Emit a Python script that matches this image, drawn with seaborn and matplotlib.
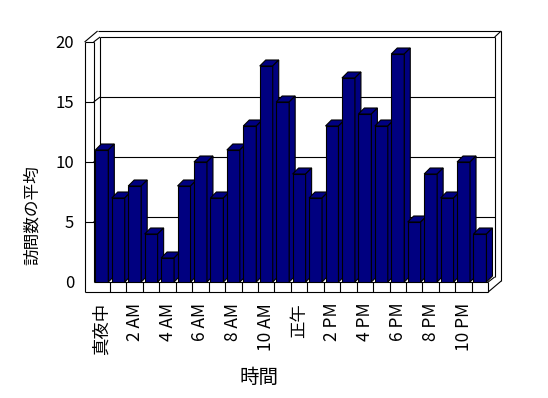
import matplotlib
matplotlib.use("Agg")
import matplotlib.pyplot as plt
from matplotlib.patches import Polygon
import seaborn as sns
import pandas as pd

# ---- data ----
hours = ["真夜中", "1 AM", "2 AM", "3 AM", "4 AM", "5 AM", "6 AM", "7 AM",
         "8 AM", "9 AM", "10 AM", "11 AM", "正午", "1 PM", "2 PM", "3 PM",
         "4 PM", "5 PM", "6 PM", "7 PM", "8 PM", "9 PM", "10 PM", "11 PM"]
visits = [11, 7, 8, 4, 2, 8, 10, 7, 11, 13, 18, 15,
          9, 7, 13, 17, 14, 13, 19, 5, 9, 7, 10, 4]
y_ticks = [0, 5, 10, 15, 20]
x_label = "時間"
y_label = "訪問数の平均"

df = pd.DataFrame({"hour": hours, "visits": visits})

sns.set_theme(style="white")
plt.rcParams["font.family"] = ["Noto Sans CJK JP", "DejaVu Sans"]
plt.rcParams["text.color"] = "black"
plt.rcParams["xtick.color"] = "black"
plt.rcParams["ytick.color"] = "black"

W, H = 548, 398
fig = plt.figure(figsize=(W / 100, H / 100), dpi=100)
fig.patch.set_facecolor("white")

# front plane of the 3-D box (pixels)
L, R, B, T = 93.6, 488.2, 282.0, 42.0
ax = fig.add_axes([L / W, (H - B) / H, (R - L) / W, (B - T) / H])

NAVY = "#000080"
LW = 0.8
sns.barplot(data=df, x="hour", y="visits", order=hours, color=NAVY,
            saturation=1, width=0.79, edgecolor="black", linewidth=LW, ax=ax)

n = len(hours)
ax.set_xlim(-0.5, n - 0.5)
ax.set_ylim(0, 20)
ax.set_facecolor("none")
for s in ax.spines.values():
    s.set_visible(False)

pxx = (R - L) / n      # pixels per x unit
pxy = (B - T) / 20.0   # pixels per y unit


def P(x, y, ox=0.0, oy=0.0):
    return (x + ox / pxx, y + oy / pxy)


BD = (6.0, 6.0)     # bar depth
BW = (6.5, 5.0)     # back wall inner face
BO = (13.0, 11.0)   # back wall outer face
LWT = 9.0           # left wall thickness (px)
FT = 10.0           # floor thickness (px)
x0, x1 = -0.5, n - 0.5


def line(a, b, z=1):
    ax.plot([a[0], b[0]], [a[1], b[1]], color="black", lw=LW, zorder=z,
            clip_on=False, solid_capstyle="butt")


# back wall inner face
line(P(x0, 20, *BW), P(x1, 20, *BW))
line(P(x0, 20, *BW), P(x0, 0, *BW))
line(P(x1, 20, *BW), P(x1, 0, *BW))
# gridlines + ticks on left wall
for yv in y_ticks[1:-1]:
    line(P(x0, yv, *BW), P(x1, yv, *BW))
    line(P(x0, yv), P(x0, yv, *BW))
    line(P(x0, yv, -LWT, 0), P(x0, yv))
# back wall outer edges
line(P(x0, 20, BO[0] - LWT, BO[1]), P(x1, 20, *BO))
line(P(x1, 20, *BW), P(x1, 20, *BO))
line(P(x1, 20, *BO), P(x1, 0, BO[0], BO[1] - FT))
# left wall
line(P(x0, 20, -LWT, 0), P(x0, 0, -LWT, -FT))
line(P(x0, 20), P(x0, 0))
line(P(x0, 20, -LWT, 0), P(x0, 20))
line(P(x0, 20, -LWT, 0), P(x0, 20, BO[0] - LWT, BO[1]))
line(P(x0, 20), P(x0, 20, *BW))
# floor
line(P(x0, 0, -LWT, -FT), P(x1, 0, 0, -FT))
line(P(x0, 0), P(x1, 0))
line(P(x1, 0), P(x1, 0, 0, -FT))
for k in range(1, n):
    line(P(k - 0.5, 0), P(k - 0.5, 0, 0, -FT))
line(P(x1, 0, 0, -FT), P(x1, 0, BO[0], BO[1] - FT))
line(P(x1, 0), P(x1, 0, *BW))

# 3-D faces for each bar
for i, bar in enumerate(ax.patches):
    bx0 = bar.get_x()
    bx1 = bx0 + bar.get_width()
    h = bar.get_height()
    z = 3 + i * 0.1
    bar.set_zorder(z)
    top = [P(bx0, h), P(bx1, h), P(bx1, h, *BD), P(bx0, h, *BD)]
    side = [P(bx1, 0), P(bx1, h), P(bx1, h, *BD), P(bx1, 0, *BD)]
    for poly in (top, side):
        ax.add_patch(Polygon(poly, closed=True, facecolor=NAVY,
                             edgecolor="black", lw=LW, zorder=z + 0.05,
                             clip_on=False))

ax.set_yticks(y_ticks)
ax.set_yticklabels([str(v) for v in y_ticks], fontsize=12)
ax.tick_params(axis="y", length=0, pad=14)
ax.set_xticks(range(0, n, 2))
ax.set_xticklabels(hours[::2], rotation=90, fontsize=12.5)
ax.tick_params(axis="x", length=0, pad=15)
ax.set_xlabel("")
ax.set_ylabel("")

fig.text(259 / W, 1 - 377 / H, x_label, ha="center", va="center", fontsize=14)
fig.text(32 / W, 1 - 215 / H, y_label, ha="center", va="center",
         rotation=90, fontsize=12)

fig.savefig("out.png", dpi=100, facecolor="white")
